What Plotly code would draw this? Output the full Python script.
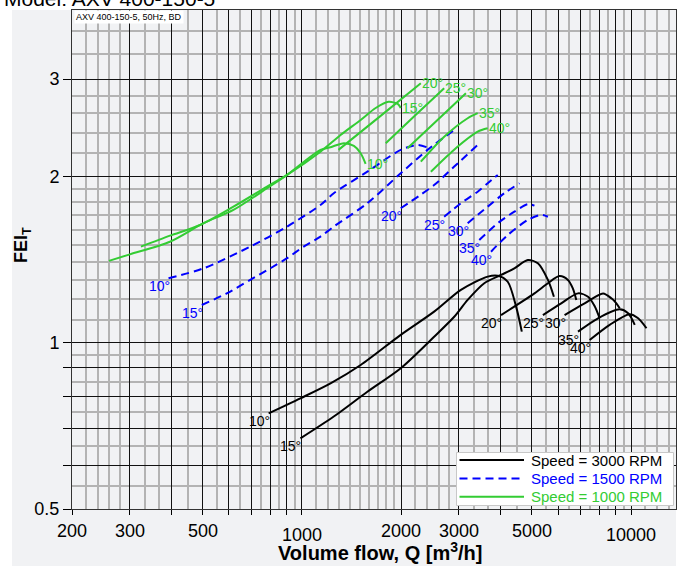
import math
import plotly.graph_objects as go

# ---------------- data ----------------
angle_labels = ["10°", "15°", "20°", "25°", "30°", "35°", "40°"]
legend_labels = ["Speed = 3000 RPM", "Speed = 1500 RPM", "Speed = 1000 RPM"]

# Speed = 3000 RPM
q_3000_10 = [792, 989, 1221, 1508, 1996, 2521, 3041, 3668, 3935, 4220, 4475, 4657]
fei_3000_10 = [0.745, 0.793, 0.844, 0.911, 1.033, 1.138, 1.246, 1.317, 1.322, 1.289, 1.162, 1.047]
q_3000_15 = [989, 1249, 1580, 1996, 2521, 2902, 3188, 3581, 4027, 4421, 4858, 5211, 5590, 5830]
fei_3000_15 = [0.671, 0.735, 0.815, 0.899, 1.025, 1.114, 1.195, 1.281, 1.326, 1.363, 1.411, 1.392, 1.299, 1.211]
q_3000_20 = [4027, 5088, 5590, 6063, 6431, 6650, 6819]
fei_3000_20 = [1.122, 1.228, 1.281, 1.320, 1.299, 1.255, 1.195]
q_3000_25 = [5398, 6136, 6900, 7403, 7750, 8028]
fei_3000_25 = [1.122, 1.178, 1.228, 1.211, 1.165, 1.107]
q_3000_30 = [6281, 7228, 8222, 8717, 9000, 9240]
fei_3000_30 = [1.122, 1.178, 1.228, 1.203, 1.180, 1.154]
q_3000_35 = [6900, 7939, 9240, 9800, 10265]
fei_3000_35 = [1.047, 1.107, 1.149, 1.130, 1.077]
q_3000_40 = [7487, 8613, 9911, 10512, 11143]
fei_3000_40 = [1.011, 1.077, 1.126, 1.107, 1.062]

# Speed = 1500 RPM
q_1500_10 = [393, 502, 696, 901, 1138, 1249, 1580, 1996, 2244, 2395]
fei_1500_10 = [1.308, 1.363, 1.492, 1.622, 1.775, 1.864, 2.039, 2.233, 2.279, 2.258]
q_1500_15 = [496, 591, 696, 801, 901, 1012, 1138, 1249, 1580, 1996, 2407, 2902]
fei_1500_15 = [1.170, 1.228, 1.299, 1.363, 1.422, 1.492, 1.556, 1.622, 1.788, 2.026, 2.233, 2.427]
q_1500_20 = [1996, 2521, 2902, 3420]
fei_1500_20 = [1.751, 1.929, 2.083, 2.279]
q_1500_25 = [2705, 3041, 3420, 3668, 3935]
fei_1500_25 = [1.690, 1.788, 1.876, 1.943, 2.012]
q_1500_30 = [3188, 3668, 4121, 4580]
fei_1500_30 = [1.645, 1.763, 1.864, 1.943]
q_1500_35 = [3458, 3935, 4421, 4858, 5088]
fei_1500_35 = [1.534, 1.645, 1.726, 1.781, 1.770]
q_1500_40 = [3754, 4220, 4858, 5333, 5590]
fei_1500_40 = [1.461, 1.566, 1.668, 1.703, 1.690]

# Speed = 1000 RPM
q_1000_10 = [259, 300, 397, 502, 619, 783, 901, 1138, 1221, 1341, 1438, 1508, 1561]
fei_1000_10 = [1.406, 1.445, 1.523, 1.645, 1.739, 1.903, 2.012, 2.233, 2.258, 2.296, 2.270, 2.202, 2.106]
q_1000_15 = [324, 397, 490, 619, 783, 901, 1138, 1310, 1508, 1675, 1834, 1954, 1996]
fei_1000_15 = [1.492, 1.562, 1.633, 1.763, 1.916, 2.012, 2.217, 2.376, 2.530, 2.659, 2.728, 2.704, 2.660]
q_1000_20 = [1291, 1734, 2297]
fei_1000_20 = [2.233, 2.573, 2.948]
q_1000_25 = [1797, 2202, 2705]
fei_1000_25 = [2.296, 2.575, 2.887]
q_1000_30 = [2092, 2567, 3150]
fei_1000_30 = [2.248, 2.521, 2.828]
q_1000_35 = [2297, 2700, 3188, 3420]
fei_1000_35 = [2.126, 2.357, 2.548, 2.602]
q_1000_40 = [2464, 2895, 3420, 3668]
fei_1000_40 = [2.039, 2.233, 2.409, 2.443]

# axis ticks
x_tick_vals = [200, 300, 400, 500, 600, 700, 800, 900, 1000, 2000, 3000, 4000, 5000,
               6000, 7000, 8000, 9000, 10000]
x_tick_text = ["200", "300", "", "500", "", "", "", "", "", "2000", "3000", "", "5000",
               "", "", "", "", ""]
x_low_labels = [1000, 10000]
x_minor_vals = [220, 240, 260, 280, 333.33, 366.67, 450, 550, 650, 750, 850, 950,
                1100, 1200, 1300, 1400, 1500, 1600, 1700, 1800, 1900,
                2200, 2400, 2600, 2800, 3333.3, 3666.7, 4500, 5500, 6500, 7500, 8500, 9500,
                11000, 12000, 13000]
y_tick_vals = [0.5, 0.6, 0.7, 0.8, 0.9, 1, 2, 3]
y_tick_text = ["0.5", "", "", "", "", "1", "2", "3"]
y_minor_vals = [0.55, 0.65, 0.75, 0.85, 0.95, 1.1, 1.2, 1.3, 1.4, 1.5, 1.6, 1.7, 1.8, 1.9,
                2.2, 2.4, 2.6, 2.8, 3.333, 3.667]

# ---------------- figure ----------------
FONT = "Arial, 'Liberation Sans', sans-serif"
BLACK = "#000000"
BLUE = "#0000ff"
GREEN = "#33cc33"
W, H = 688, 566
ML, MR, MT, MB = 72, 12, 10, 57
PW, PH = W - ML - MR, H - MT - MB


def px_x(px):  # pixel column -> paper x
    return (px - ML) / PW


def px_y(py):  # pixel row -> paper y
    return (H - MB - py) / PH


groups = [
    (legend_labels[0], BLACK, "solid", "start", [
        (q_3000_10, fei_3000_10), (q_3000_15, fei_3000_15), (q_3000_20, fei_3000_20),
        (q_3000_25, fei_3000_25), (q_3000_30, fei_3000_30), (q_3000_35, fei_3000_35),
        (q_3000_40, fei_3000_40)]),
    (legend_labels[1], BLUE, "8px,5px", "start", [
        (q_1500_10, fei_1500_10), (q_1500_15, fei_1500_15), (q_1500_20, fei_1500_20),
        (q_1500_25, fei_1500_25), (q_1500_30, fei_1500_30), (q_1500_35, fei_1500_35),
        (q_1500_40, fei_1500_40)]),
    (legend_labels[2], GREEN, "solid", "end", [
        (q_1000_10, fei_1000_10), (q_1000_15, fei_1000_15), (q_1000_20, fei_1000_20),
        (q_1000_25, fei_1000_25), (q_1000_30, fei_1000_30), (q_1000_35, fei_1000_35),
        (q_1000_40, fei_1000_40)]),
]

fig = go.Figure()
annotations = []
shapes = [dict(type="rect", xref="paper", yref="paper",
               x0=px_x(12), x1=1.0, y0=px_y(H + 2), y1=1.0,
               fillcolor="#f1f2f4", line=dict(width=0), layer="below")]

for name, color, dash, label_pos, series in groups:
    for i, (q, fei) in enumerate(series):
        fig.add_trace(go.Scatter(
            x=q, y=fei, mode="lines",
            line=dict(color=color, width=2, dash=dash, shape="spline", smoothing=0.8),
            name=name, legendgroup=name, showlegend=False, hoverinfo="skip"))
        if label_pos == "start":
            annotations.append(dict(
                x=math.log10(q[0]), y=math.log10(fei[0]), xref="x", yref="y",
                text=angle_labels[i], showarrow=False, xanchor="right", yanchor="top",
                xshift=3, yshift=2, font=dict(family=FONT, size=14, color=color)))
        else:
            annotations.append(dict(
                x=math.log10(q[-1]), y=math.log10(fei[-1]), xref="x", yref="y",
                text=angle_labels[i], showarrow=False, xanchor="left", yanchor="middle",
                xshift=-1, font=dict(family=FONT, size=14, color=color)))

# legend box (drawn like the reference: long line samples)
shapes.append(dict(type="rect", xref="paper", yref="paper",
                   x0=px_x(456.5), x1=px_x(673.5), y0=px_y(505.5), y1=px_y(452.5),
                   fillcolor="white", line=dict(color="#c8c8c8", width=1), layer="above"))
for k, (name, color, dash, _, _) in enumerate(groups):
    row_y = px_y(460 + k * 18.4)
    shapes.append(dict(type="line", xref="paper", yref="paper",
                       x0=px_x(459.5), x1=px_x(524), y0=row_y, y1=row_y,
                       line=dict(color=color, width=2, dash=dash), layer="above"))
    annotations.append(dict(
        x=px_x(528.5), y=row_y, xref="paper", yref="paper", xanchor="left",
        yanchor="middle", text=name, showarrow=False,
        font=dict(family=FONT, size=15, color=color)))

for v in x_low_labels:
    annotations.append(dict(
        x=math.log10(v), y=0, xref="x", yref="paper", yanchor="top", yshift=-14,
        text=str(v), showarrow=False, font=dict(family=FONT, size=18, color="black")))

annotations.append(dict(
    x=px_x(74), y=1.0, xref="paper", yref="paper", xanchor="left", yanchor="top",
    text="AXV 400-150-5, 50Hz, BD", showarrow=False, bgcolor="white", borderpad=1,
    font=dict(family=FONT, size=9, color="black")))

annotations.append(dict(
    x=px_x(22), y=px_y(245), xref="paper", yref="paper", xanchor="center", yanchor="middle",
    text="<b>FEI<sub>T</sub></b>", textangle=-90, showarrow=False,
    font=dict(family=FONT, size=18, color="black")))

annotations.append(dict(
    x=px_x(380), y=px_y(551), xref="paper", yref="paper", xanchor="center", yanchor="middle",
    text="<b>Volume flow, Q [m<sup>3</sup>/h]</b>", showarrow=False,
    font=dict(family=FONT, size=20, color="black")))

annotations.append(dict(
    x=px_x(2), y=px_y(12), xref="paper", yref="paper", xanchor="left", yanchor="bottom",
    text="Model: AXV 400-150-5", showarrow=False,
    font=dict(family=FONT, size=21, color="black")))

fig.update_layout(
    width=W, height=H, autosize=False,
    margin=dict(l=ML, r=MR, t=MT, b=MB, autoexpand=False),
    paper_bgcolor="white", plot_bgcolor="#f1f2f4",
    font=dict(family=FONT, size=16, color="black"),
    showlegend=False,
    annotations=annotations,
    shapes=shapes,
)

fig.update_xaxes(
    type="log", range=[math.log10(200), math.log10(13700)], automargin=False,
    tickmode="array", tickvals=x_tick_vals, ticktext=x_tick_text,
    ticks="outside", ticklen=5, tickcolor="black", tickwidth=1,
    tickfont=dict(family=FONT, size=18, color="black"),
    showgrid=True, gridcolor="#111111", gridwidth=1,
    showline=True, linecolor="#333333", linewidth=1, mirror=True, zeroline=False,
    minor=dict(tickmode="array", tickvals=x_minor_vals, showgrid=True,
               gridcolor="#b3b3b3", gridwidth=2, ticks=""),
)
fig.update_yaxes(
    type="log", range=[math.log10(0.5), math.log10(4)], automargin=False,
    tickmode="array", tickvals=y_tick_vals, ticktext=y_tick_text,
    ticks="outside", ticklen=8, tickcolor="black", tickwidth=1,
    tickfont=dict(family=FONT, size=18, color="black"),
    showgrid=True, gridcolor="#111111", gridwidth=1,
    showline=True, linecolor="#333333", linewidth=1, mirror=True, zeroline=False,
    minor=dict(tickmode="array", tickvals=y_minor_vals, showgrid=True,
               gridcolor="#b3b3b3", gridwidth=2, ticks=""),
)

fig.write_html("out.html", config={"displayModeBar": False},
               post_script="document.body.style.margin='0';document.body.style.padding='0';")
